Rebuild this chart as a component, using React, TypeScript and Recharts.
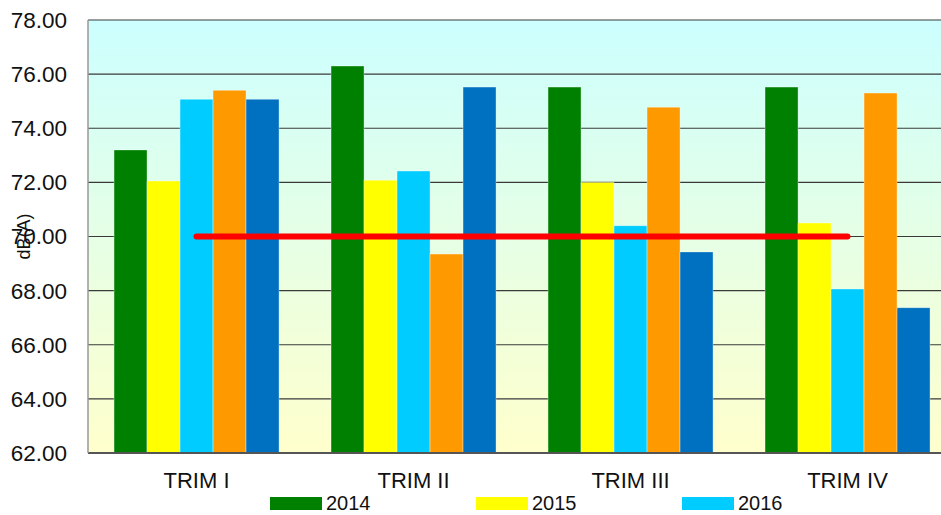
import { ComposedChart, Bar, Line, XAxis, YAxis, CartesianGrid } from "recharts";

const quarters = ["TRIM I", "TRIM II", "TRIM III", "TRIM IV"];
const y2014 = [73.2, 76.3, 75.52, 75.52];
const y2015 = [72.05, 72.08, 72.0, 70.5];
const y2016 = [75.07, 72.42, 70.4, 68.06];
const y2017 = [75.4, 69.35, 74.78, 75.3];
const y2018 = [75.07, 75.52, 69.43, 67.37];
const limit = [70, 70, 70, 70];
const yTicks = [62, 64, 66, 68, 70, 72, 74, 76, 78];

const series = [
  { key: "2014", values: y2014, color: "#008000" },
  { key: "2015", values: y2015, color: "#FFFF00" },
  { key: "2016", values: y2016, color: "#00CCFF" },
  { key: "2017", values: y2017, color: "#FF9900" },
  { key: "2018", values: y2018, color: "#0070C0" },
];

// only the first row of the legend is visible in the picture
const legendItems = series.slice(0, 3);

const data = quarters.map((q, i) => {
  const row: Record<string, string | number> = { name: q, limit: limit[i] };
  series.forEach((s) => (row[s.key] = s.values[i]));
  return row;
});

const font = "'Liberation Sans', Arial, sans-serif";

export default function App() {
  return (
    <div
      style={{
        position: "fixed",
        left: 0,
        top: 0,
        width: 941,
        height: 515,
        overflow: "hidden",
        background: "#fff",
        fontFamily: font,
      }}
    >
      <ComposedChart
        width={960}
        height={515}
        data={data}
        margin={{ top: 20, right: 4, bottom: 0, left: 0 }}
        barCategoryGap="12%"
        barGap={0}
      >
        <defs>
          <linearGradient id="bgGrad" x1="0" y1="0" x2="0" y2="1">
            <stop offset="0%" stopColor="#CCFFFF" />
            <stop offset="100%" stopColor="#FFFFCC" />
          </linearGradient>
        </defs>
        <CartesianGrid
          vertical={false}
          stroke="#3a3a3a"
          strokeWidth={1.2}
          fill="url(#bgGrad)"
          fillOpacity={1}
        />
        <XAxis
          dataKey="name"
          height={62}
          tickSize={0}
          tickMargin={19}
          tickLine={false}
          axisLine={{ stroke: "#555", strokeWidth: 2 }}
          tick={{ fill: "#111", fontSize: 22, fontFamily: font }}
        />
        <YAxis
          domain={[62, 78]}
          ticks={yTicks}
          width={88}
          tickSize={0}
          tickMargin={21}
          tickLine={false}
          interval={0}
          axisLine={{ stroke: "#999", strokeWidth: 1.5 }}
          tickFormatter={(v: number) => v.toFixed(2)}
          tick={{ fill: "#111", fontSize: 22.5, fontFamily: font }}
          label={{
            value: "dB(A)",
            angle: -90,
            position: "center",
            dx: -20,
            style: { fill: "#111", fontSize: 18, fontFamily: font },
          }}
        />
        {series.map((s) => (
          <Bar
            key={s.key}
            dataKey={s.key}
            fill={s.color}
            stroke="rgba(255,255,255,0.35)"
            strokeWidth={1}
            isAnimationActive={false}
          />
        ))}
        <Line
          dataKey="limit"
          stroke="#FF0000"
          strokeWidth={6}
          strokeLinecap="round"
          dot={false}
          activeDot={false}
          isAnimationActive={false}
        />
      </ComposedChart>

      {/* Legend */}
      {legendItems.map((s, i) => (
        <div
          key={s.key}
          style={{
            position: "absolute",
            left: 270 + i * 206,
            top: 493,
            height: 20,
            display: "flex",
            alignItems: "center",
            fontSize: 20,
            color: "#111",
            lineHeight: "20px",
          }}
        >
          <span
            style={{
              display: "inline-block",
              width: 52,
              height: 13,
              background: s.color,
              marginRight: 4,
            }}
          />
          {s.key}
        </div>
      ))}
    </div>
  );
}
